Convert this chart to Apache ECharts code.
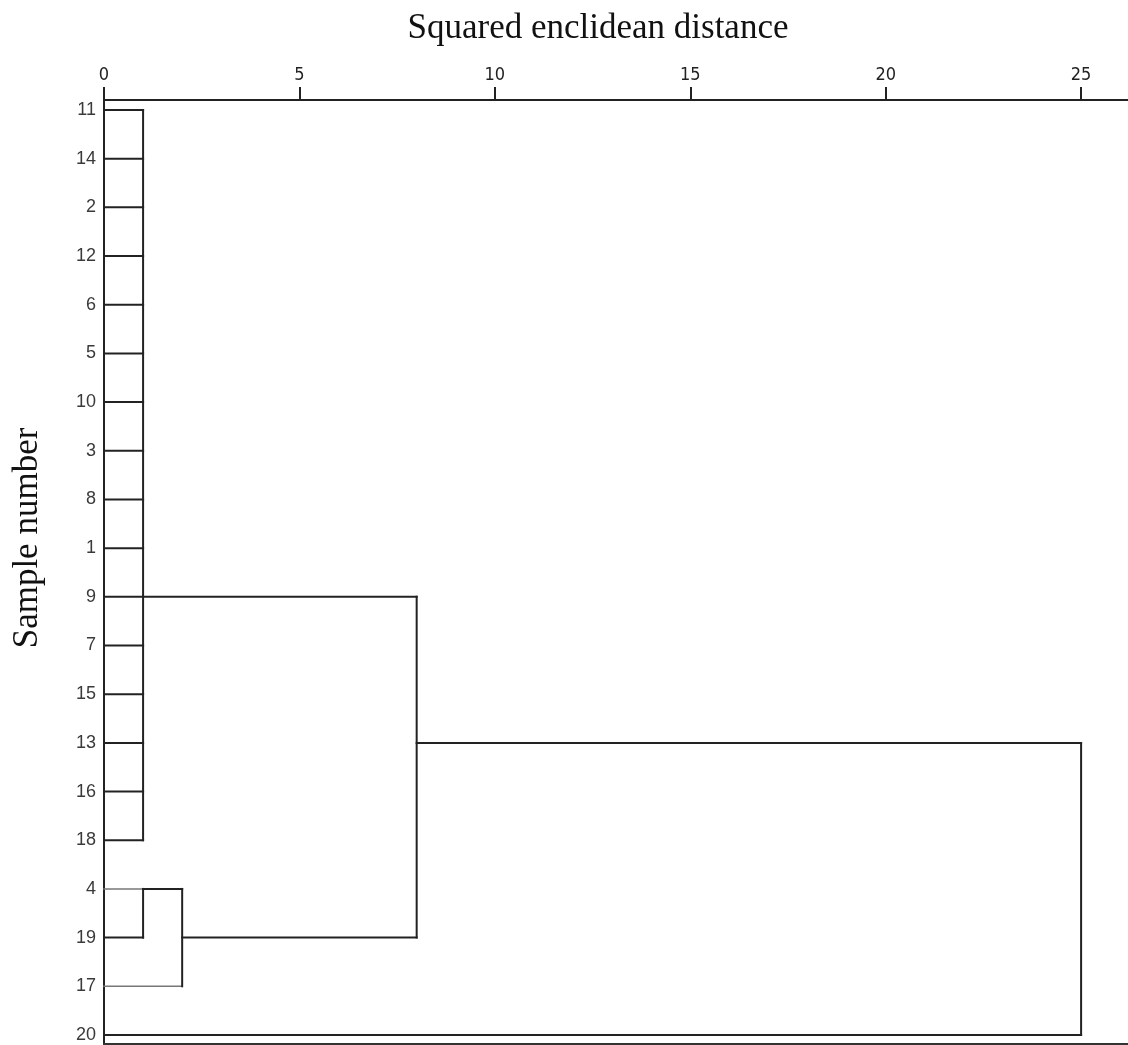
<!DOCTYPE html>
<html>
<head>
<meta charset="utf-8">
<script src="https://cdn.jsdelivr.net/npm/echarts@6/dist/echarts.min.js"></script>
<style>
html,body{margin:0;padding:0;background:#fff;}
#chart{width:1128px;height:1045px;}
</style>
</head>
<body>
<div id="chart"></div>
<script>
// Leaf order (top to bottom)
const leaves = ['11','14','2','12','6','5','10','3','8','1','9','7','15','13','16','18','4','19','17','20'];
// Merges: members (leaves or earlier clusters), joining distance, row the link leaves from
const clusterA = { id: 'A', members: ['11','14','2','12','6','5','10','3','8','1','9','7','15','13','16','18'], distance: 1, linkRow: '9' };
const clusterB = { id: 'B', members: ['4','19'], distance: 1, linkRow: '4' };
const clusterC = { id: 'C', members: ['B','17'], distance: 2, linkRow: '19' };
const clusterD = { id: 'D', members: ['A','C'], distance: 8, linkRow: '13' };
const clusterE = { id: 'E', members: ['D','20'], distance: 25, linkRow: '13' };
const clusters = [clusterA, clusterB, clusterC, clusterD, clusterE];
const xTicks = [0, 5, 10, 15, 20, 25];
const lightLeaves = ['4', '17'];
const xTitle = 'Squared enclidean distance';
const yTitle = 'Sample number';

// Build dendrogram segments in data space
const info = {};
leaves.forEach((l, i) => { info[l] = { h: 0, row: i, leaf: true }; });
const segments = [];
clusters.forEach(c => {
  const rows = c.members.map(m => info[m].row);
  c.members.forEach(m => {
    const n = info[m];
    segments.push([n.h, n.row, c.distance, n.row, (n.leaf && lightLeaves.indexOf(m) >= 0) ? 1 : 0]);
  });
  segments.push([c.distance, Math.min.apply(null, rows), c.distance, Math.max.apply(null, rows), 0]);
  info[c.id] = { h: c.distance, row: leaves.indexOf(c.linkRow), leaf: false };
});

const chart = echarts.init(document.getElementById('chart'), null, { renderer: 'canvas' });
const rowIdx = leaves.map((l, i) => i);

chart.setOption({
  animation: false,
  backgroundColor: '#fff',
  grid: { left: 104, right: 0, top: 100, bottom: 1, containLabel: false },
  xAxis: [{
    type: 'value', position: 'top', min: 0, max: 26.2,
    axisLine: { show: true, onZero: false, lineStyle: { color: '#222', width: 2 } },
    axisTick: { show: true, length: 13, customValues: xTicks, lineStyle: { color: '#222', width: 2 } },
    axisLabel: { show: true, customValues: xTicks, margin: 16, color: '#222', fontSize: 18, fontFamily: 'DejaVu Sans Condensed, DejaVu Sans' },
    splitLine: { show: false }
  }, {
    type: 'value', position: 'bottom', min: 0, max: 26.2,
    axisLine: { show: true, onZero: false, lineStyle: { color: '#333', width: 2 } },
    axisTick: { show: false }, axisLabel: { show: false }, splitLine: { show: false }
  }],
  yAxis: {
    type: 'value', inverse: true, min: -0.205, max: 19.185,
    axisLine: { show: true, onZero: false, lineStyle: { color: '#222', width: 2 } },
    axisTick: { show: false },
    splitLine: { show: false },
    axisLabel: {
      customValues: rowIdx, margin: 8, color: '#3a3a3a', fontSize: 18,
      fontFamily: 'Liberation Sans, Arial',
      formatter: v => leaves[Math.round(v)]
    }
  },
  graphic: [
    { type: 'text', x: 598, y: 11, style: { text: xTitle, font: '35px "Liberation Serif", "Times New Roman", serif', fill: '#111', align: 'center', verticalAlign: 'top' } },
    { type: 'text', x: 28, y: 538, rotation: Math.PI / 2, style: { text: yTitle, font: '35px "Liberation Serif", "Times New Roman", serif', fill: '#111', align: 'center', verticalAlign: 'middle' } }
  ],
  series: [{
    type: 'custom',
    clip: false,
    data: segments,
    encode: { x: [0, 2], y: [1, 3] },
    renderItem: function (params, api) {
      const p1 = api.coord([api.value(0), api.value(1)]);
      const p2 = api.coord([api.value(2), api.value(3)]);
      const light = api.value(4) === 1;
      return {
        type: 'line',
        shape: { x1: p1[0], y1: p1[1], x2: p2[0], y2: p2[1] },
        style: { stroke: light ? '#777' : '#222', lineWidth: light ? 1.6 : 2, lineCap: 'square' }
      };
    }
  }]
});
</script>
</body>
</html>
